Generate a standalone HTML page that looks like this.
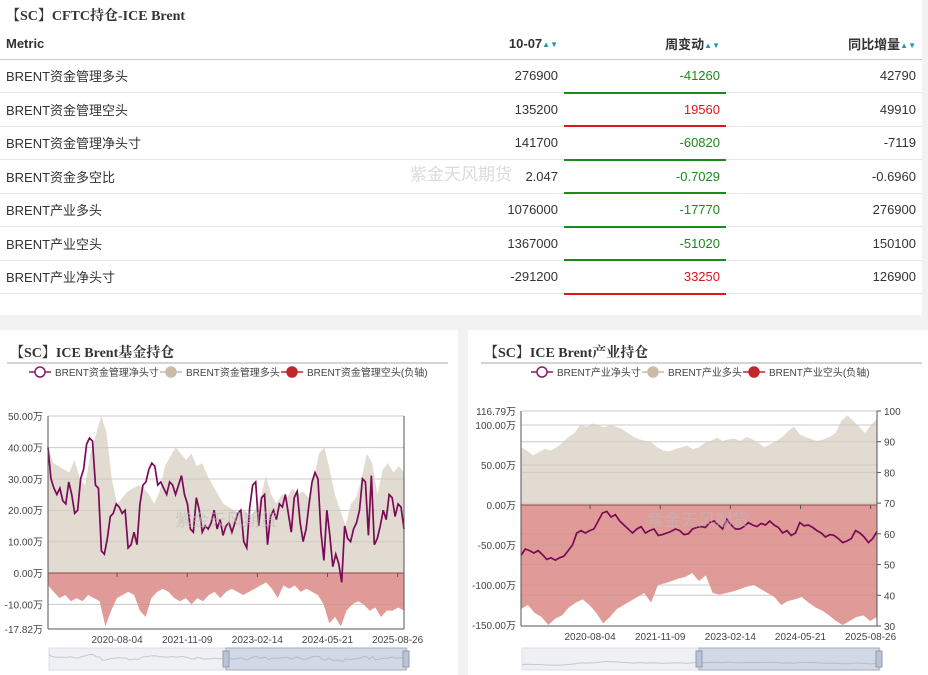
<!DOCTYPE html>
<html><head><meta charset="utf-8">
<style>
body{margin:0;width:928px;height:675px;background:#f2f2f2;font-family:"Liberation Sans","Noto Sans CJK SC",sans-serif;position:relative;overflow:hidden}
.panel{position:absolute;background:#fff}
.title{position:absolute;font-family:"Liberation Serif","Noto Serif CJK SC",serif;font-weight:bold;font-size:14px;color:#333}
table{border-collapse:collapse;position:absolute;left:0;top:28px;width:922px;font-size:13px;color:#333}
td,th{height:32px;padding:0 6px;border-bottom:1px solid #e6e6e6;box-sizing:border-box}
tr{height:33.5px}
th{height:30px;font-weight:bold;border-bottom:1px solid #ccc}
.r{text-align:right}
.g{color:#1a8a1a}.rd{color:#e0141e}
.ug{border-bottom:2px solid #1a8a1a}.ur{border-bottom:2px solid #e0141e}
.wm{position:absolute;color:#ccc;font-size:17px;opacity:.7}
.sort{font-size:8px;color:#29a;vertical-align:middle}
</style></head><body>
<div class="panel" style="left:0;top:0;width:922px;height:315px">
<div class="title" style="left:6px;top:5px">【SC】CFTC持仓-ICE Brent</div>
<table>
<tr style="height:31px"><th style="text-align:left">Metric</th><th class="r" style="width:400px">10-07<span class="sort">▲▼</span></th><th class="r" style="width:162px">周变动<span class="sort">▲▼</span></th><th class="r" style="width:196px">同比增量<span class="sort">▲▼</span></th></tr>
<tr><td>BRENT资金管理多头</td><td class="r">276900</td><td class="r g ug">-41260</td><td class="r">42790</td></tr>
<tr><td>BRENT资金管理空头</td><td class="r">135200</td><td class="r rd ur">19560</td><td class="r">49910</td></tr>
<tr><td>BRENT资金管理净头寸</td><td class="r">141700</td><td class="r g ug">-60820</td><td class="r">-7119</td></tr>
<tr><td>BRENT资金多空比</td><td class="r">2.047</td><td class="r g ug">-0.7029</td><td class="r">-0.6960</td></tr>
<tr><td>BRENT产业多头</td><td class="r">1076000</td><td class="r g ug">-17770</td><td class="r">276900</td></tr>
<tr><td>BRENT产业空头</td><td class="r">1367000</td><td class="r g ug">-51020</td><td class="r">150100</td></tr>
<tr><td>BRENT产业净头寸</td><td class="r">-291200</td><td class="r rd ur">33250</td><td class="r">126900</td></tr>
</table>
<div class="wm" style="left:410px;top:160px">紫金天风期货</div>
</div>
<div class="panel" style="left:0;top:330px;width:458px;height:345px">
<div class="title" style="left:10px;top:12px">【SC】ICE Brent基金持仓</div>
</div>
<div class="panel" style="left:468px;top:330px;width:460px;height:345px">
<div class="title" style="left:16px;top:12px">【SC】ICE Brent产业持仓</div>
</div>
<svg id="c1" width="928" height="675" style="position:absolute;left:0;top:0"></svg>
<svg id="c2" width="928" height="675" style="position:absolute;left:0;top:0"></svg>
<script>
const dateTicks=["2020-08-04","2021-11-09","2023-02-14","2024-05-21","2025-08-26"];
const fundNet=[40,30,27,25,27,23,22,29,25,19,20,30,33,41,43,42,28,27,7,6,11,18,19,22,21,19,20,8,9,13,9,22,28,29,33,35,34,28,29,27,25,29,28,25,28,31,25,22,14,13,24,20,13,15,14,16,20,14,17,12,15,16,13,16,19,20,10,8,21,28,29,15,24,25,9,18,20,17,22,21,25,19,13,24,26,16,10,14,22,29,32,30,13,4,20,12,2,6,3,-3,15,11,10,14,16,20,30,29,12,31,9,11,15,20,17,25,24,18,22,21,14];
const fundLong=[40,35,34,33,32,36,30,28,38,44,50,45,30,22,24,26,27,28,27,25,22,26,34,37,40,38,36,38,34,35,31,28,25,22,21,20,19,20,18,20,24,31,25,22,25,24,27,25,26,24,30,38,40,33,25,20,15,22,24,30,38,35,25,33,35,32,34,32];
const fundShort=[4,6,8,7,9,8,9,7,8,9,17,12,8,7,6,7,12,14,8,6,5,6,8,9,8,10,8,9,7,6,8,6,5,6,7,6,5,4,3,5,8,4,5,4,6,5,6,7,10,16,14,17,12,10,9,10,12,11,14,12,12,11,12];
const fundYTicks=[50,40,30,20,10,0,-10];
const indNet=[-63,-55,-57,-60,-57,-62,-68,-66,-69,-66,-64,-57,-50,-35,-32,-35,-32,-30,-20,-10,-8,-15,-12,-20,-25,-30,-35,-30,-27,-35,-32,-30,-38,-37,-35,-33,-30,-32,-37,-36,-30,-28,-27,-28,-22,-20,-25,-30,-18,-25,-30,-30,-27,-22,-25,-27,-23,-25,-20,-25,-28,-35,-32,-38,-35,-22,-26,-25,-28,-32,-35,-40,-37,-38,-42,-47,-45,-42,-32,-35,-40,-47,-42,-33];
const indLong=[72,68,62,66,70,68,72,78,85,90,100,98,102,100,97,100,98,95,90,85,82,80,78,72,68,67,70,72,74,70,72,78,80,84,80,82,83,80,85,82,78,72,76,80,85,92,98,88,85,82,80,82,85,90,105,112,105,98,90,100,108];
const indShort=[130,125,135,140,150,142,138,128,122,118,125,135,148,140,130,125,120,115,110,122,100,98,95,92,90,85,95,88,110,112,110,108,105,102,100,105,110,115,125,120,118,115,122,128,132,138,145,150,145,140,138,145,140];
const indYTicks=[100,50,0,-50,-100,-150];
const indRTicks=[100,90,80,70,60,50,40,30];

const NS="http://www.w3.org/2000/svg";
function mk(svg,tag,at,name){const e=document.createElementNS(NS,tag);for(const k in at)e.setAttribute(k,at[k]);


svg.appendChild(e);return e;}
function draw(id,o){
 const svg=document.getElementById(id);
 const L=o.x0,R=o.x1;
 const y=v=>o.yz-v*o.k;
 const xs=(i,n)=>L+i*(R-L)/(n-1);
 const lg=o.leg;
 [[0,'#8b1a6b',true],[1,'#c9bba8',false],[2,'#c0282b',false]].forEach((c,j)=>{
  const lx=lg.x[j];
  mk(svg,'line',{x1:lx,y1:372,x2:lx+22,y2:372,stroke:c[1],'stroke-width':1.5},'legend-line-'+j);
  mk(svg,'circle',{cx:lx+11,cy:372,r:5,fill:c[2]?'#fff':c[1],stroke:c[1],'stroke-width':1.5},'legend-marker-'+j);
  const t=mk(svg,'text',{x:lx+26,y:376,'font-size':10,fill:'#444'},'legend-label-'+j);t.textContent=lg.t[j];
 });
 mk(svg,'line',{x1:o.rule[0],x2:o.rule[1],y1:363,y2:363,stroke:'#aaa'},'title-rule');
 o.grid.forEach(g=>mk(svg,'line',{x1:L,x2:R,y1:g,y2:g,stroke:'#ddd'},'grid-line'));
 let p='M'+L+','+y(0);o.long.forEach((v,i)=>p+='L'+xs(i,o.long.length)+','+y(v));p+='L'+R+','+y(0)+'Z';
 mk(svg,'path',{d:p,fill:'#e2dbd1'},'long-area');
 p='M'+L+','+y(0);o.short.forEach((v,i)=>p+='L'+xs(i,o.short.length)+','+y(-v));p+='L'+R+','+y(0)+'Z';
 mk(svg,'path',{d:p,fill:'#e09a97'},'short-area');
 o.grid.forEach(g=>mk(svg,'line',{x1:L,x2:R,y1:g,y2:g,stroke:'rgba(150,150,150,0.25)'},'grid-line-overlay'));
 mk(svg,'line',{x1:L,x2:R,y1:y(0),y2:y(0),stroke:'#8a4a4a'},'zero-line');
 p='';o.net.forEach((v,i)=>p+=(i?'L':'M')+xs(i,o.net.length)+','+y(v));
 mk(svg,'path',{d:p,fill:'none',stroke:'#7a0a58','stroke-width':1.7},'net-line');
 mk(svg,'line',{x1:L,x2:L,y1:o.top,y2:o.bot,stroke:'#555'},'y-axis');
 mk(svg,'line',{x1:R,x2:R,y1:o.top,y2:o.bot,stroke:'#555'},'right-axis');
 mk(svg,'line',{x1:L,x2:R,y1:o.bot,y2:o.bot,stroke:'#555'},'x-axis');
 o.yt.forEach(v=>{const t=mk(svg,'text',{x:L-5,y:y(v)+4,'font-size':10,fill:'#444','text-anchor':'end'},'y-tick-label');t.textContent=v.toFixed(2)+'万';});
 const tt=mk(svg,'text',{x:L-5,y:o.topLabY+4,'font-size':10,fill:'#444','text-anchor':'end'},'y-tick-label');tt.textContent=o.topLab;
 const xd=d=>L+(Date.parse(d)-Date.parse(o.d0))/(Date.parse(o.d1)-Date.parse(o.d0))*(R-L);
 dateTicks.forEach(d=>{const X=xd(d);mk(svg,'line',{x1:X,x2:X,y1:y(0),y2:y(0)+4,stroke:'#555'},'x-tick');
  const t=mk(svg,'text',{x:X,y:o.bot+14,'font-size':10,fill:'#444','text-anchor':'middle'},'x-tick-label');t.textContent=d;});
 if(o.rt){o.rt.forEach(v=>{const Y=o.top+(100-v)/70*(o.bot-o.top);
  mk(svg,'line',{x1:R,x2:R+4,y1:Y,y2:Y,stroke:'#555'},'right-tick');
  const t=mk(svg,'text',{x:R+7,y:Y+4,'font-size':10,fill:'#444'},'right-tick-label');t.textContent=v;});}
 const sy=648;
 mk(svg,'rect',{x:L+1,y:sy,width:R-L+2,height:22,fill:'#eef0f3',stroke:'#dde'},'zoom-slider');
 let sp='';o.net.forEach((v,i)=>sp+=(i?'L':'M')+(L+1+i*(R-L)/(o.net.length-1))+','+(sy+13-v*o.sk));
 mk(svg,'path',{d:sp,fill:'none',stroke:'#c4c8d0'},'slider-line');
 const sx=L+(R-L)*0.5;
 const sel=mk(svg,'rect',{x:sx,y:sy,width:R-sx+2,height:22,fill:'rgba(140,165,200,0.3)',stroke:'#aab'},'zoom-selection');
 
 [sx,R+2].forEach(hx=>{const h=mk(svg,'rect',{x:hx-3,y:sy+3,width:6,height:16,fill:'#b8c4d8',stroke:'#99a'},'zoom-handle');});
 const w=mk(svg,'text',{x:o.wm[0],y:o.wm[1],'font-size':17,fill:'#bbb','fill-opacity':0.6},'watermark');w.textContent='紫金天风期货';
}
draw('c1',{x0:48,x1:404,yz:573,k:3.14,sk:0.15,top:416,bot:629,net:fundNet,long:fundLong,short:fundShort,yt:fundYTicks,
 grid:[416,447.6,479,510.4,541.8,604.4],topLab:'-17.82万',topLabY:629,d0:'2019-05-07',d1:'2025-10-07',
 leg:{x:[29,160,281],t:['BRENT资金管理净头寸','BRENT资金管理多头','BRENT资金管理空头(负轴)']},wm:[175,526],rule:[7,448]});
draw('c2',{x0:521,x1:877,yz:505,k:0.8,sk:0.06,top:411,bot:626,net:indNet,long:indLong,short:indShort,yt:indYTicks,rt:indRTicks,
 grid:[411,425,441.7,465,472.4,503.1,533.9,545,564.6,585,595.3],topLab:'116.79万',topLabY:411,d0:'2019-05-07',d1:'2025-10-07',
 leg:{x:[531,642,743],t:['BRENT产业净头寸','BRENT产业多头','BRENT产业空头(负轴)']},wm:[647,526],rule:[481,922]});
</script>
</body></html>
